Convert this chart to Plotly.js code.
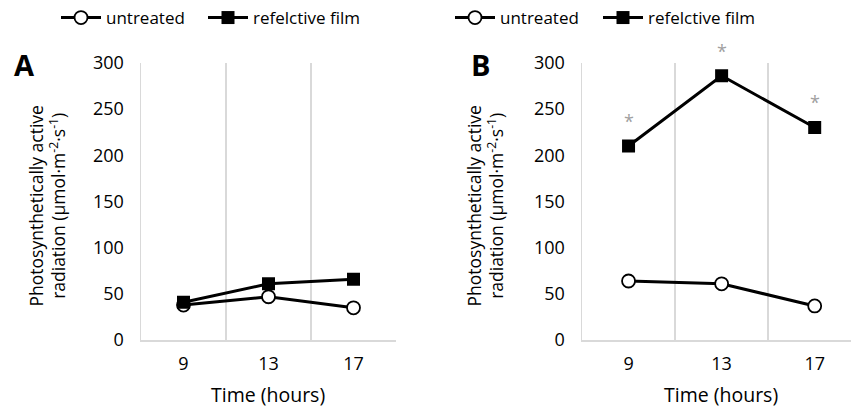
<!DOCTYPE html>
<html>
<head>
<meta charset="utf-8">
<script src="https://cdn.plot.ly/plotly-3.0.1.min.js"></script>
<style>html,body{margin:0;padding:0;background:#fff;}#chart{width:851px;height:412px;}</style>
</head>
<body>
<div id="chart"></div>
<script>
// Data
const hours = ["9", "13", "17"];
const untreatedA = [38, 47, 35];
const reflectiveA = [41, 61, 66];
const untreatedB = [64, 61, 37];
const reflectiveB = [210, 286, 230];
const sigB = [243, 318, 263];
const sigMark = ["*", "*", "*"];
const yMax = 300;
const seriesNames = ["untreated", "refelctive film"];
const yTitle = "Photosynthetically active<br>radiation (µmol·m<sup>-2</sup>·s<sup>-1</sup>)";
const xTitle = "Time (hours)";
const panelLabels = ["A", "B"];

const FONT = "Open Sans, Noto Sans, sans-serif";
const W = 851, H = 412;
const px = v => v / W;
const py = v => 1 - v / H;
function f(size, extra) {
  return Object.assign({family: FONT, size: size, color: "#000"}, extra || {});
}

function lineTrace(name, y, xa, ya, lg, open) {
  return {
    type: "scatter", mode: "lines+markers", name: name,
    x: hours, y: y, xaxis: xa, yaxis: ya, legend: lg, showlegend: true,
    line: {color: "#000", width: 3},
    marker: open
      ? {symbol: "circle", size: 13, color: "#fff", line: {color: "#000", width: 1.8}}
      : {symbol: "square", size: 13, color: "#000", line: {color: "#000", width: 0}}
  };
}

const data = [
  lineTrace(seriesNames[0], untreatedA, "x", "y", "legend", true),
  lineTrace(seriesNames[1], reflectiveA, "x", "y", "legend2", false),
  lineTrace(seriesNames[0], untreatedB, "x2", "y2", "legend3", true),
  lineTrace(seriesNames[1], reflectiveB, "x2", "y2", "legend4", false)
];

function xax(domain, range) {
  return {
    domain: domain, type: "category", range: range, tickson: "boundaries",
    showgrid: true, gridcolor: "#d9d9d9", gridwidth: 1.5,
    showline: true, linecolor: "#d9d9d9", linewidth: 1.5, ticks: "",
    ticklabelstandoff: 7,
    tickfont: f(18), fixedrange: true
  };
}
function yax(anchor) {
  return {
    domain: [py(340), py(62)], range: [0, yMax], dtick: 50, anchor: anchor,
    showgrid: false, zeroline: false, showline: true, linecolor: "#d9d9d9", linewidth: 1.5,
    ticks: "", ticklabelstandoff: 12,
    tickfont: f(18), fixedrange: true
  };
}

function legendAt(x) {
  return {
    orientation: "h", yanchor: "middle", y: py(17), xanchor: "left", x: px(x),
    font: f(17), bgcolor: "rgba(0,0,0,0)", itemwidth: 40, visible: true
  };
}

const annotations = [
  {text: panelLabels[0], x: px(24), y: py(64), xref: "paper", yref: "paper", showarrow: false,
   xanchor: "center", yanchor: "middle", font: f(29, {weight: 700})},
  {text: panelLabels[1], x: px(480), y: py(64), xref: "paper", yref: "paper", showarrow: false,
   xanchor: "center", yanchor: "middle", font: f(29, {weight: 700})},
  {text: yTitle, x: px(47), y: py(206), xref: "paper", yref: "paper", showarrow: false, textangle: -90,
   xanchor: "center", yanchor: "middle", font: f(17.5)},
  {text: yTitle, x: px(485), y: py(206), xref: "paper", yref: "paper", showarrow: false, textangle: -90,
   xanchor: "center", yanchor: "middle", font: f(17.5)},
  {text: xTitle, x: px(268), y: py(394), xref: "paper", yref: "paper", showarrow: false,
   xanchor: "center", yanchor: "middle", font: f(19.5)},
  {text: xTitle, x: px(721), y: py(394), xref: "paper", yref: "paper", showarrow: false,
   xanchor: "center", yanchor: "middle", font: f(19.5)}
];
hours.forEach((h, i) => {
  annotations.push({
    text: sigMark[i], x: i, y: sigB[i] / yMax, xref: "x2", yref: "y2 domain", showarrow: false,
    xanchor: "center", yanchor: "middle", yshift: -5,
    font: {family: FONT, size: 18, color: "#a0a0a0"}
  });
});

const layout = {
  width: W, height: H,
  margin: {l: 0, r: 0, t: 0, b: 0},
  paper_bgcolor: "#fff", plot_bgcolor: "#fff",
  showlegend: true,
  font: f(18),
  xaxis: Object.assign(xax([px(141), px(396)], [-0.5, 2.5]), {anchor: "y"}),
  yaxis: yax("x"),
  xaxis2: Object.assign(xax([px(582), 1], [-0.5, 2.39]), {anchor: "y2"}),
  yaxis2: yax("x2"),
  legend: legendAt(56),
  legend2: legendAt(203),
  legend3: legendAt(450),
  legend4: legendAt(598),
  annotations: annotations
};

Plotly.newPlot("chart", data, layout, {staticPlot: true, displayModeBar: false});
</script>
</body>
</html>
